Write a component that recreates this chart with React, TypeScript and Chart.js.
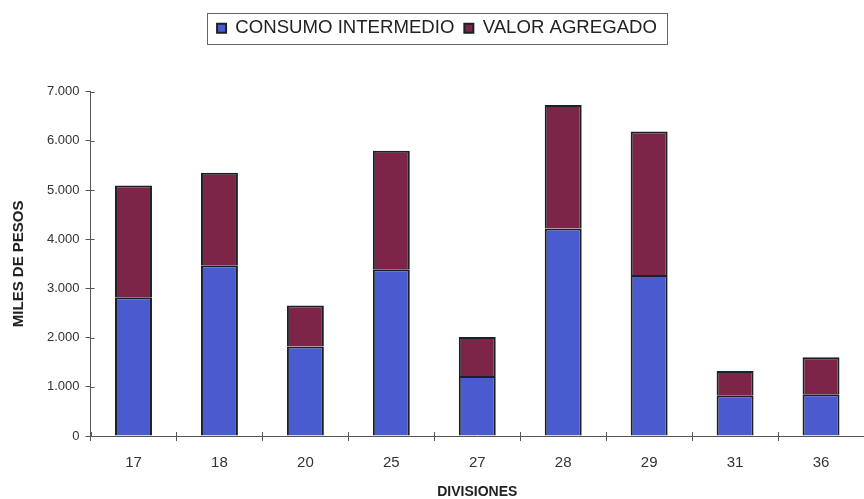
import React, { useEffect, useRef } from "react";
import { Chart, registerables } from "chart.js";

Chart.register(...registerables);

const categories = ["17", "18", "20", "25", "27", "28", "29", "31", "36"];
const consumoIntermedio = [2820, 3470, 1820, 3390, 1220, 4220, 3270, 830, 850];
const valorAgregado = [2270, 1880, 830, 2410, 790, 2510, 2920, 490, 750];
const yTicks = [0, 1000, 2000, 3000, 4000, 5000, 6000, 7000];

const fmt = (v: number) => String(v).replace(/\B(?=(\d{3})+(?!\d))/g, ".");

const extras = {
  id: "extras",
  afterInit(chart: any) {
    const lg = chart.legend;
    if (lg && !lg.__patched) {
      const orig = lg.fit;
      lg.fit = function () {
        orig.call(this);
        this.height += 44;
      };
      lg.__patched = true;
    }
  },
  afterDraw(chart: any) {
    const lg = chart.legend;
    const ctx = chart.ctx;
    ctx.save();
    ctx.strokeStyle = "#666";
    ctx.lineWidth = 1;
    const items = lg && lg.legendHitBoxes;
    if (items && items.length) {
      const l = items[0].left - 10;
      const r = items[items.length - 1].left + items[items.length - 1].width + 10;
      const t = items[0].top - 6;
      const b = items[0].top + items[0].height + 6;
      ctx.strokeRect(Math.round(l) + 0.5, Math.round(t) + 0.5, Math.round(r - l), Math.round(b - t));
    }
    // inner tick marks (crossing the axes)
    const ys = chart.scales.y;
    const xs = chart.scales.x;
    ctx.strokeStyle = "#555";
    ctx.beginPath();
    ys.ticks.forEach((_: any, i: number) => {
      const py = Math.round(ys.getPixelForTick(i)) + 0.5;
      ctx.moveTo(ys.right, py);
      ctx.lineTo(ys.right + 4, py);
    });
    for (let i = 0; i <= categories.length; i++) {
      const px = Math.round(xs.getPixelForValue(i - 0.5)) + 0.5;
      ctx.moveTo(px, xs.top);
      ctx.lineTo(px, xs.top - 4);
    }
    ctx.stroke();
    ctx.restore();
  },
};

export default function App() {
  const ref = useRef<HTMLCanvasElement>(null);
  useEffect(() => {
    if (!ref.current) return;
    const chart = new Chart(ref.current, {
      type: "bar",
      data: {
        labels: categories,
        datasets: [
          {
            label: "CONSUMO INTERMEDIO",
            data: consumoIntermedio,
            backgroundColor: "#4a5bd0",
            borderColor: "#1a2228",
            borderWidth: 2,
            barPercentage: 0.43,
            categoryPercentage: 1,
          },
          {
            label: "VALOR AGREGADO",
            data: valorAgregado,
            backgroundColor: "#7d2548",
            borderColor: "#1a2228",
            borderWidth: 2,
            barPercentage: 0.43,
            categoryPercentage: 1,
          },
        ],
      },
      options: {
        animation: false,
        responsive: true,
        maintainAspectRatio: false,
        layout: { padding: { top: 9, right: 0, left: 10, bottom: 0 } },
        plugins: {
          tooltip: { enabled: false },
          legend: {
            position: "top",
            labels: {
              boxWidth: 9,
              boxHeight: 9,
              padding: 10,
              color: "#222",
              font: { family: "'Liberation Sans', Arial, sans-serif", size: 18.6 },
            },
          },
        },
        scales: {
          x: {
            stacked: true,
            grid: { offset: true, drawOnChartArea: false, tickLength: 5, color: "#555" },
            border: { color: "#555", width: 1 },
            ticks: {
              color: "#333",
              padding: 13,
              font: { family: "'Liberation Sans', Arial, sans-serif", size: 15 },
            },
            title: {
              display: true,
              text: "DIVISIONES",
              color: "#222",
              padding: { top: 0, bottom: 0 },
              font: { family: "'Liberation Sans', Arial, sans-serif", size: 14, weight: "bold", lineHeight: 1 },
            },
          },
          y: {
            stacked: true,
            min: 0,
            max: 7000,
            afterBuildTicks: (axis: any) => {
              axis.ticks = yTicks.map((v) => ({ value: v }));
            },
            grid: { drawOnChartArea: false, tickLength: 5, color: "#555" },
            border: { color: "#555", width: 1 },
            ticks: {
              color: "#333",
              padding: 6,
              font: { family: "'Liberation Sans', Arial, sans-serif", size: 13 },
              callback: (v: any) => fmt(Number(v)),
            },
            title: {
              display: true,
              text: "MILES DE PESOS",
              color: "#222",
              padding: { top: 0, bottom: 13 },
              font: { family: "'Liberation Sans', Arial, sans-serif", size: 15, weight: "bold" },
            },
          },
        },
      },
      plugins: [extras],
    });
    return () => chart.destroy();
  }, []);
  return (
    <div style={{ position: "absolute", left: 0, top: 0, width: 864, height: 499, background: "#fff" }}>
      <canvas ref={ref} />
    </div>
  );
}
